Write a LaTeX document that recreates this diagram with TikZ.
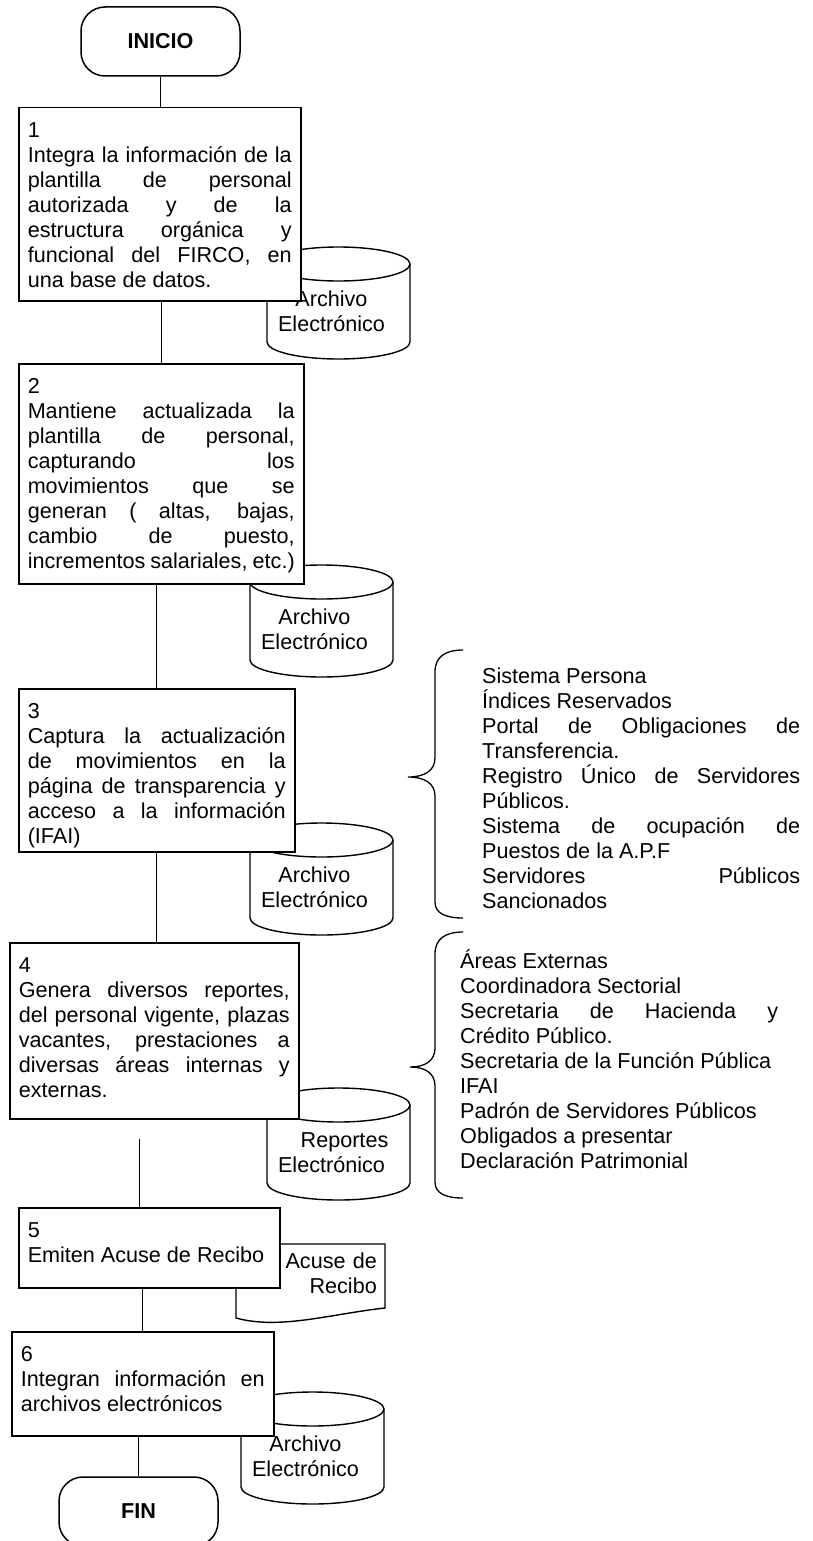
\documentclass[tikz,border=0pt]{standalone}
\usepackage{fontspec}
\setmainfont{Liberation Sans}

\newcommand\cuerpo{\fontsize{21.6pt}{25pt}\selectfont\hyphenpenalty=10000 \tolerance=10000 }

\tikzset{
  paso/.style={draw, line width=1.5pt, fill=white, anchor=north west,
    inner xsep=9pt, inner ysep=0pt, text height=30pt, align=justify, font=\cuerpo},
  terminal/.style={draw, line width=1.5pt, fill=white, rounded corners=24pt,
    minimum width=159pt, minimum height=69pt, font=\cuerpo\bfseries},
  linea/.style={line width=1.2pt},
  llave/.style={line width=1.3pt},
  lista/.style={anchor=base west, inner sep=0pt, text width=318pt,
    align=justify, font=\cuerpo},
  % disco: cilindro de 143 x 112 con el origen en su punto superior
  pics/disco/.style={code={
    \draw[line width=1.4pt, fill=white] (-71.5,-17) -- (-71.5,-95)
      arc[start angle=180, end angle=360, x radius=71.5, y radius=17] -- (71.5,-17);
    \draw[line width=1.4pt, fill=white] (0,-17) ellipse [x radius=71.5, y radius=17];
    \node[align=center, inner sep=0pt, font=\cuerpo] (-txt) at (-7,-64.5) {#1};
  }}
}

\begin{document}
\begin{tikzpicture}[x=1pt, y=1pt]
\useasboundingbox (0,0) rectangle (812,-1541);
\fill[white] (0,0) rectangle (812,-1541);

% archivos (quedan debajo de las cajas)
\pic (d1) at (338.5,-247) {disco={Archivo\\Electrónico}};
\pic (d2) at (321.5,-565) {disco={Archivo\\Electrónico}};
\pic (d3) at (321.5,-823) {disco={Archivo\\Electrónico}};
\pic (d4) at (338.5,-1088) {disco={\hspace*{26pt}Reportes\\Electrónico}};
\pic (d6) at (312.5,-1392) {disco={Archivo\\Electrónico}};

% documento
\draw[line width=1.4pt, fill=white] (236,-1244) -- (385,-1244) -- (385,-1308)
  .. controls (330,-1314) and (280,-1330) .. (236,-1318) -- cycle;
\node[anchor=base east, inner sep=0pt, text width=100pt, align=right, font=\cuerpo]
  (acuse) at (377,-1268) {Acuse de\\Recibo};

\node[terminal] (inicio) at (160.5,-41.5) {INICIO};

\node[paso, text width=264pt, text depth=163pt] (p1) at (18,-107) {1\\Integra la información de la\linebreak
  plantilla de personal\linebreak autorizada y de la\linebreak estructura orgánica y\linebreak
  funcional del FIRCO, en\linebreak una base de datos.};
\node[paso, text width=267pt, text depth=190pt] (p2) at (18,-363) {2\\Mantiene actualizada la\linebreak
  plantilla de personal,\linebreak capturando los\linebreak movimientos que se\linebreak
  generan ( altas, bajas,\linebreak cambio de puesto,\linebreak incrementos salariales, etc.)};
\node[paso, text width=258pt, text depth=133pt] (p3) at (18,-688) {3\\Captura la actualización\linebreak
  de movimientos en la\linebreak página de transparencia y\linebreak acceso a la información\linebreak (IFAI)};
\node[paso, text width=271pt, text depth=146pt] (p4) at (9,-942) {4\\Genera diversos reportes,\linebreak
  del personal vigente, plazas\linebreak vacantes, prestaciones a\linebreak
  diversas áreas internas y\linebreak externas.};
\node[paso, text width=243pt, text depth=50pt] (p5) at (18,-1207) {5\\Emiten Acuse de Recibo};
\node[paso, text width=244pt, text depth=74pt] (p6) at (11,-1331) {6\\Integran información en\linebreak
  archivos electrónicos};

\node[terminal] (fin) at (138.5,-1511.5) {FIN};

% flujo
\draw[linea] (inicio.south) -- (inicio.south |- p1.north);
\draw[linea] (p1.south -| p2.north) -- (p2.north);
\draw[linea] (p2.south -| p3.north) -- (p3.north);
\draw[linea] (p3.south) -- (p3.south |- p4.north);
\draw[linea, shorten <=19pt] ([xshift=-9.5pt]p5.north |- p4.south) -- ([xshift=-9.5pt]p5.north);
\draw[linea] (p5.south -| p6.north) -- (p6.north);
\draw[linea] (p6.south -| fin.north) -- (fin.north);

% sistemas
\node[lista] (l1) at (482,-683) {Sistema Persona\\
  Índices Reservados\\
  Portal de Obligaciones de\linebreak Transferencia.\\
  Registro Único de Servidores\linebreak Públicos.\\
  Sistema de ocupación de\linebreak Puestos de la A.P.F\\
  Servidores Públicos\linebreak Sancionados};
\draw[llave] (463,-650) .. controls (445,-650) and (435,-657) .. (435,-672) -- (435,-758)
  .. controls (435,-771) and (424,-777) .. (408,-777)
  .. controls (424,-777) and (435,-783) .. (435,-796) -- (435,-902)
  .. controls (435,-913) and (445,-918) .. (463,-918);

% areas externas
\node[lista] (l2) at (460,-968.5) {Áreas Externas\\
  Coordinadora Sectorial\\
  Secretaria de Hacienda y\linebreak Crédito Público.\\
  Secretaria de la Función Pública\\
  IFAI\\
  Padrón de Servidores Públicos\\
  Obligados a presentar\\
  Declaración Patrimonial};
\draw[llave] (463,-932) .. controls (445,-932) and (435,-939) .. (435,-954) -- (435,-1048)
  .. controls (435,-1061) and (425,-1067) .. (410,-1067)
  .. controls (425,-1067) and (435,-1073) .. (435,-1086) -- (435,-1182)
  .. controls (435,-1193) and (445,-1198) .. (463,-1198);
\end{tikzpicture}
\end{document}
